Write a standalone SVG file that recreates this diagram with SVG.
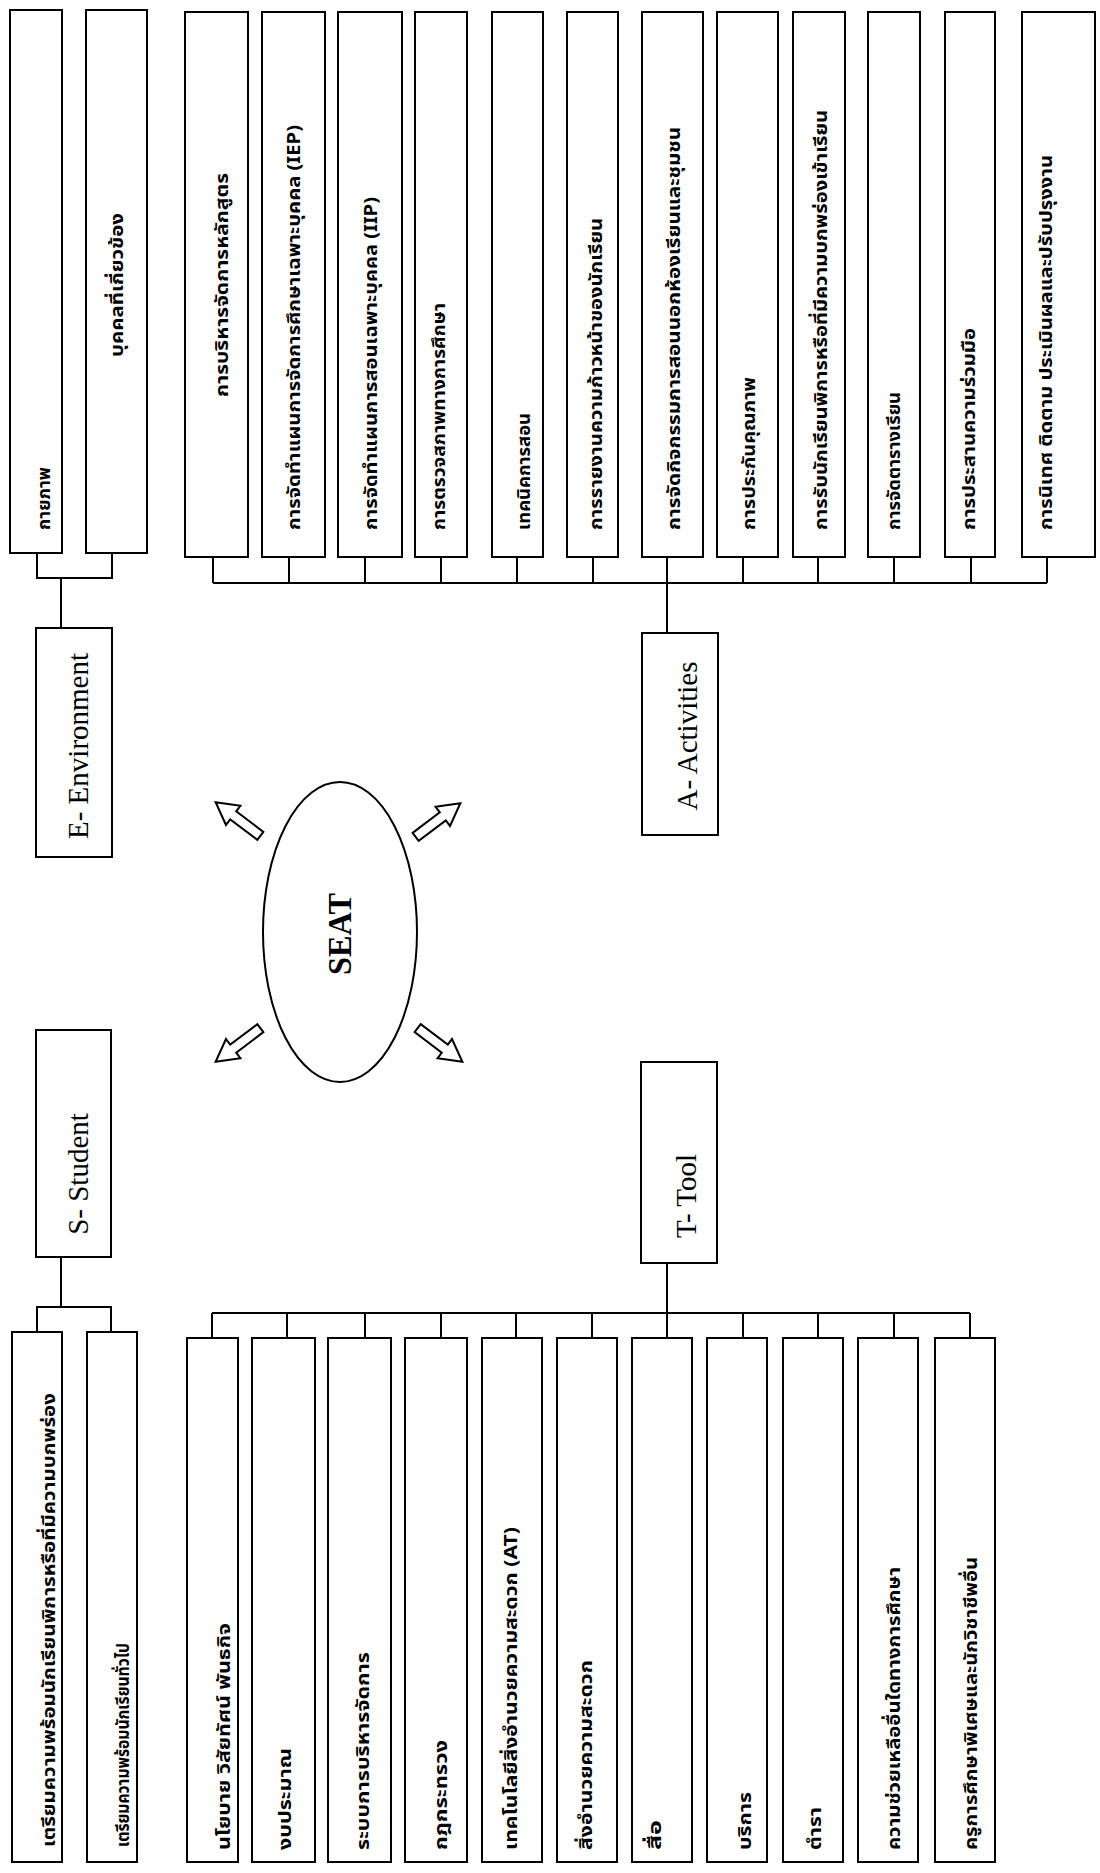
<svg xmlns="http://www.w3.org/2000/svg" width="1100" height="1873" viewBox="0 0 1100 1873">
<defs>
<style>
.box{fill:#fff;stroke:#000;stroke-width:2}
.ln{fill:none;stroke:#000;stroke-width:2}
.th{font-family:"Noto Sans Thai","Noto Sans","DejaVu Sans",sans-serif;font-weight:bold;font-size:18px;fill:#000}
.en{font-family:"Liberation Serif","Times New Roman",serif;font-size:29px;fill:#000}
.seat{font-family:"Liberation Serif","Times New Roman",serif;font-size:34px;font-weight:bold;fill:#000}
.arr{fill:#fff;stroke:#000;stroke-width:2;stroke-linejoin:miter}
</style>
<polygon id="blk" points="-28,-5 6,-5 6,-12 28,0 6,12 6,5 -28,5"/>
</defs>
<rect width="1100" height="1873" fill="#fff"/>

<g id="connectors">
<path class="ln" d="M37 553V578H112V553M61 578V628"/>
<path class="ln" d="M61 1257V1307M37 1332V1307H111V1332"/>
<path class="ln" d="M213 583H1047M667 583V633M213 557V583M289 557V583M365 557V583M441 557V583M517 557V583M593 557V583M667 557V583M743 557V583M818 557V583M894 557V583M971 557V583M1047 557V583"/>
<path class="ln" d="M212 1313H970M667 1263V1313M212 1338V1313M287 1338V1313M365 1338V1313M441 1338V1313M516 1338V1313M592 1338V1313M667 1338V1313M743 1338V1313M818 1338V1313M894 1338V1313M970 1338V1313"/>
</g>

<g id="seat">
<ellipse cx="340" cy="932" rx="77" ry="150" class="ln"/>
<text class="seat" transform="translate(351,934) rotate(-90)" text-anchor="middle" textLength="82" lengthAdjust="spacingAndGlyphs">SEAT</text>
</g>
<g id="arrows">
<use href="#blk" class="arr" transform="translate(238,819) rotate(217)"/>
<use href="#blk" class="arr" transform="translate(438,820) rotate(-37)"/>
<use href="#blk" class="arr" transform="translate(238,1045) rotate(143)"/>
<use href="#blk" class="arr" transform="translate(440,1045) rotate(37)"/>
</g>

<g id="E-Environment"><rect class="box" x="36" y="628" width="76" height="229"/><text class="en" transform="translate(88,746) rotate(-90)" text-anchor="middle">E- Environment</text></g>
<g id="S-Student"><rect class="box" x="36" y="1030" width="75" height="227"/><text class="en" transform="translate(88,1174) rotate(-90)" text-anchor="middle">S- Student</text></g>
<g id="A-Activities"><rect class="box" x="642" y="633" width="76" height="202"/><text class="en" transform="translate(697,736) rotate(-90)" text-anchor="middle">A- Activities</text></g>
<g id="T-Tool"><rect class="box" x="641" y="1062" width="76" height="201"/><text class="en" transform="translate(696,1196) rotate(-90)" text-anchor="middle">T- Tool</text></g>

<g id="E1"><rect class="box" x="10" y="10" width="52" height="543"/><text class="th" transform="translate(50,530) rotate(-90)" textLength="63" lengthAdjust="spacingAndGlyphs">กายภาพ</text></g>
<g id="E2"><rect class="box" x="86" y="10" width="61" height="543"/><text class="th" transform="translate(123,285) rotate(-90)" text-anchor="middle" textLength="144" lengthAdjust="spacingAndGlyphs">บุคคลที่เกี่ยวข้อง</text></g>

<g id="S1"><rect class="box" x="12" y="1332" width="50" height="530"/><text class="th" transform="translate(55,1847) rotate(-90)" textLength="454" lengthAdjust="spacingAndGlyphs">เตรียมความพร้อมนักเรียนพิการหรือที่มีความบกพร่อง</text></g>
<g id="S2"><rect class="box" x="87" y="1332" width="50" height="530"/><text class="th" transform="translate(129,1847) rotate(-90)" textLength="204" lengthAdjust="spacingAndGlyphs">เตรียมความพร้อมนักเรียนทั่วไป</text></g>

<g id="A1"><rect class="box" x="185" y="12" width="63" height="545"/><text class="th" transform="translate(228,397) rotate(-90)" textLength="224" lengthAdjust="spacingAndGlyphs">การบริหารจัดการหลักสูตร</text></g>
<g id="A2"><rect class="box" x="262" y="12" width="63" height="545"/><text class="th" transform="translate(300,530) rotate(-90)" textLength="405" lengthAdjust="spacingAndGlyphs">การจัดทำแผนการจัดการศึกษาเฉพาะบุคคล (IEP)</text></g>
<g id="A3"><rect class="box" x="338" y="12" width="64" height="545"/><text class="th" transform="translate(377,530) rotate(-90)" textLength="333" lengthAdjust="spacingAndGlyphs">การจัดทำแผนการสอนเฉพาะบุคคล (IIP)</text></g>
<g id="A4"><rect class="box" x="415" y="12" width="52" height="545"/><text class="th" transform="translate(445,530) rotate(-90)" textLength="227" lengthAdjust="spacingAndGlyphs">การตรวจสภาพทางการศึกษา</text></g>
<g id="A5"><rect class="box" x="492" y="12" width="51" height="545"/><text class="th" transform="translate(530,530) rotate(-90)" textLength="117" lengthAdjust="spacingAndGlyphs">เทคนิคการสอน</text></g>
<g id="A6"><rect class="box" x="567" y="12" width="51" height="545"/><text class="th" transform="translate(602,530) rotate(-90)" textLength="312" lengthAdjust="spacingAndGlyphs">การรายงานความก้าวหน้าของนักเรียน</text></g>
<g id="A7"><rect class="box" x="642" y="12" width="61" height="545"/><text class="th" transform="translate(680,530) rotate(-90)" textLength="403" lengthAdjust="spacingAndGlyphs">การจัดกิจกรรมการสอนนอกห้องเรียนและชุมชน</text></g>
<g id="A8"><rect class="box" x="717" y="12" width="61" height="545"/><text class="th" transform="translate(755,530) rotate(-90)" textLength="153" lengthAdjust="spacingAndGlyphs">การประกันคุณภาพ</text></g>
<g id="A9"><rect class="box" x="793" y="12" width="52" height="545"/><text class="th" transform="translate(827,530) rotate(-90)" textLength="420" lengthAdjust="spacingAndGlyphs">การรับนักเรียนพิการหรือที่มีความบกพร่องเข้าเรียน</text></g>
<g id="A10"><rect class="box" x="868" y="12" width="52" height="545"/><text class="th" transform="translate(900,530) rotate(-90)" textLength="138" lengthAdjust="spacingAndGlyphs">การจัดตารางเรียน</text></g>
<g id="A11"><rect class="box" x="945" y="12" width="50" height="545"/><text class="th" transform="translate(975,530) rotate(-90)" textLength="202" lengthAdjust="spacingAndGlyphs">การประสานความร่วมมือ</text></g>
<g id="A12"><rect class="box" x="1022" y="12" width="73" height="545"/><text class="th" transform="translate(1052,530) rotate(-90)" textLength="375" lengthAdjust="spacingAndGlyphs">การนิเทศ ติดตาม ประเมินผลและปรับปรุงงาน</text></g>

<g id="T1"><rect class="box" x="187" y="1338" width="51" height="524"/><text class="th" transform="translate(230,1850) rotate(-90)" textLength="227" lengthAdjust="spacingAndGlyphs">นโยบาย วิสัยทัศน์ พันธกิจ</text></g>
<g id="T2"><rect class="box" x="252" y="1338" width="63" height="524"/><text class="th" transform="translate(291,1850) rotate(-90)" textLength="102" lengthAdjust="spacingAndGlyphs">งบประมาณ</text></g>
<g id="T3"><rect class="box" x="328" y="1338" width="63" height="524"/><text class="th" transform="translate(369,1850) rotate(-90)" textLength="198" lengthAdjust="spacingAndGlyphs">ระบบการบริหารจัดการ</text></g>
<g id="T4"><rect class="box" x="405" y="1338" width="62" height="524"/><text class="th" transform="translate(447,1850) rotate(-90)" textLength="110" lengthAdjust="spacingAndGlyphs">กฎกระทรวง</text></g>
<g id="T5"><rect class="box" x="482" y="1338" width="60" height="524"/><text class="th" transform="translate(517,1850) rotate(-90)" textLength="323" lengthAdjust="spacingAndGlyphs">เทคโนโลยีสิ่งอำนวยความสะดวก (AT)</text></g>
<g id="T6"><rect class="box" x="557" y="1338" width="60" height="524"/><text class="th" transform="translate(592,1850) rotate(-90)" textLength="190" lengthAdjust="spacingAndGlyphs">สิ่งอำนวยความสะดวก</text></g>
<g id="T7"><rect class="box" x="632" y="1338" width="60" height="524"/><text class="th" transform="translate(661,1850) rotate(-90)" textLength="30" lengthAdjust="spacingAndGlyphs">สื่อ</text></g>
<g id="T8"><rect class="box" x="707" y="1338" width="60" height="524"/><text class="th" transform="translate(751,1850) rotate(-90)" textLength="58" lengthAdjust="spacingAndGlyphs">บริการ</text></g>
<g id="T9"><rect class="box" x="783" y="1338" width="60" height="524"/><text class="th" transform="translate(821,1850) rotate(-90)" textLength="43" lengthAdjust="spacingAndGlyphs">ตำรา</text></g>
<g id="T10"><rect class="box" x="858" y="1338" width="60" height="524"/><text class="th" transform="translate(900,1850) rotate(-90)" textLength="283" lengthAdjust="spacingAndGlyphs">ความช่วยเหลืออื่นใดทางการศึกษา</text></g>
<g id="T11"><rect class="box" x="935" y="1338" width="60" height="524"/><text class="th" transform="translate(977,1850) rotate(-90)" textLength="293" lengthAdjust="spacingAndGlyphs">ครูการศึกษาพิเศษและนักวิชาชีพอื่น</text></g>
</svg>
